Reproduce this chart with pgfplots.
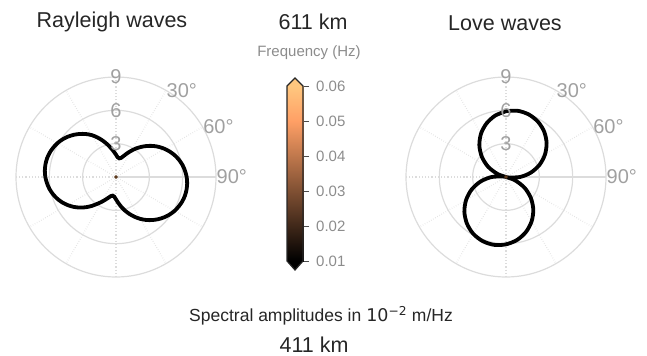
\documentclass[border=0pt]{standalone}
\usepackage{fontspec}
\setmainfont{Liberation Sans}
\newfontfamily\dejavu{DejaVu Sans}
\usepackage{pgfplots}
\usepackage{pgfplotstable}
\pgfplotsset{compat=1.18}
\usepgfplotslibrary{polar}

\definecolor{gridc}{HTML}{DCDCDC}
\definecolor{labc}{HTML}{A0A0A0}
\definecolor{cbl}{HTML}{8C8C8C}
\definecolor{titc}{HTML}{262626}
\definecolor{dotc}{HTML}{5C3A1E}

\pgfplotsset{
  colormap={copper}{rgb(0cm)=(0,0,0) rgb(8cm)=(1,0.625,0.398) rgb(10cm)=(1,0.7812,0.4975)},
  mypolar/.style={
    scale only axis, width=200bp, height=200bp, anchor=center,
    ymin=0, ymax=9, clip=false,
    xtick={30,60,120,150,210,240,300,330},
    extra x ticks={0,90,180,270},
    extra x tick style={major grid style={solid, gridc, line width=1.2bp}, xticklabels={}},
    xticklabels={}, yticklabels={},
    ytick={3,6},
    xmajorgrids, ymajorgrids,
    major x grid style={dotted, gridc, line width=1.3bp},
    major y grid style={solid, gridc, line width=1.2bp},
    axis line style={gridc, line width=1.2bp},
    major tick length=0pt,
  },
}

% azimuth (deg, clockwise from north)  amplitude (1e-2 m/Hz)
\pgfplotstableread{
az r
0 2.01
5 1.78
10 1.70
15 1.78
20 2.01
25 2.34
30 2.72
35 3.13
40 3.54
45 3.95
50 4.35
55 4.72
60 5.06
65 5.37
70 5.65
75 5.89
80 6.09
85 6.24
90 6.36
95 6.43
100 6.45
105 6.43
110 6.36
115 6.24
120 6.09
125 5.89
130 5.65
135 5.37
140 5.06
145 4.72
150 4.35
155 3.95
160 3.54
165 3.13
170 2.72
175 2.34
180 2.01
185 1.78
190 1.70
195 1.78
200 1.98
205 2.25
210 2.58
215 2.95
220 3.40
225 3.85
230 4.28
235 4.68
240 5.04
245 5.37
250 5.65
255 5.89
260 6.09
265 6.24
270 6.36
275 6.43
280 6.45
285 6.43
290 6.36
295 6.24
300 6.09
305 5.89
310 5.65
315 5.37
320 5.06
325 4.72
330 4.35
335 3.92
340 3.48
345 3.05
350 2.65
355 2.30
360 2.01
}\rayleigh

\pgfplotstableread{
az r
0 5.92
10 6.05
20 5.99
30 5.75
40 5.34
50 4.77
60 4.05
70 3.21
80 2.27
90 1.26
100 0.21
102 0
110 0.86
120 1.92
130 2.91
140 3.82
150 4.61
160 5.26
170 5.75
180 6.06
190 6.20
200 6.14
210 5.90
220 5.47
230 4.89
240 4.15
250 3.29
260 2.32
270 1.29
280 0.22
282 0
290 0.84
300 1.87
310 2.84
320 3.73
330 4.50
340 5.13
350 5.61
360 5.92
}\love

\newcommand{\fs}[1]{\fontsize{#1bp}{#1bp}\selectfont}

\begin{document}
\begin{tikzpicture}
\path[use as bounding box] (0,0) rectangle (647bp,-356bp);

% Rayleigh
\begin{polaraxis}[mypolar, at={(116bp,-177bp)}]
\addplot[black, line width=3.8bp, smooth, tension=0.5] table[x expr={90-\thisrow{az}}, y=r] {\rayleigh};
\addplot[only marks, mark=*, mark size=1.6bp, dotc] coordinates {(0,0)};
\node[labc, font=\fs{20}, inner sep=0pt] at (axis cs:90,9) {9};
\node[labc, font=\fs{20}, inner sep=0pt] at (axis cs:90,6) {6};
\node[labc, font=\fs{20}, inner sep=0pt] at (axis cs:90,3) {3};
\node[labc, font=\fs{20}, inner sep=0.5bp, anchor=west] at (axis cs:60,9) {30°};
\node[labc, font=\fs{20}, inner sep=0.5bp, anchor=west] at (axis cs:30,9) {60°};
\node[labc, font=\fs{20}, inner sep=0.5bp, anchor=west] at (axis cs:0,9) {90°};
\end{polaraxis}

% Love
\begin{polaraxis}[mypolar, at={(506bp,-177bp)}]
\addplot[black, line width=3.8bp, smooth, tension=0.5] table[x expr={90-\thisrow{az}}, y=r] {\love};
\addplot[only marks, mark=*, mark size=1.6bp, dotc] coordinates {(0,0)};
\node[labc, font=\fs{20}, inner sep=0pt] at (axis cs:90,9) {9};
\node[labc, font=\fs{20}, inner sep=0pt] at (axis cs:90,6) {6};
\node[labc, font=\fs{20}, inner sep=0pt] at (axis cs:90,3) {3};
\node[labc, font=\fs{20}, inner sep=0.5bp, anchor=west] at (axis cs:60,9) {30°};
\node[labc, font=\fs{20}, inner sep=0.5bp, anchor=west] at (axis cs:30,9) {60°};
\node[labc, font=\fs{20}, inner sep=0.5bp, anchor=west] at (axis cs:0,9) {90°};
\end{polaraxis}

% colorbar
\begin{axis}[at={(287bp,-261bp)}, anchor=south west, scale only axis,
  width=16bp, height=175bp, xmin=0, xmax=1, ymin=0.01, ymax=0.06,
  colormap name=copper, point meta min=0.01, point meta max=0.06,
  axis line style={draw=none}, xtick=\empty,
  ytick={0.01,0.02,0.03,0.04,0.05,0.06}, ytick pos=right, tick align=outside,
  scaled y ticks=false,
  major tick length=6bp, tick style={draw=black!70, line width=0.8bp},
  yticklabel style={cbl, font=\fs{15}, inner xsep=2bp, xshift=5bp},
  /pgf/number format/fixed, /pgf/number format/fixed zerofill,
  /pgf/number format/precision=2, /pgf/number format/assume math mode=true,
  ]
\addplot[surf, shader=interp, mesh/cols=2, point meta=y] coordinates {(0,0.01) (1,0.01) (0,0.06) (1,0.06)};
\end{axis}
\fill[black] (287bp,-261bp) -- (295bp,-270bp) -- (303bp,-261bp) -- cycle;
\fill[color={rgb,1:red,1;green,0.7812;blue,0.4975}] (287bp,-86bp) -- (295bp,-78bp) -- (303bp,-86bp) -- cycle;
\draw[black!85, line width=1.2bp, line join=miter] (287bp,-86bp) -- (295bp,-78bp) -- (303bp,-86bp) -- (303bp,-261bp) -- (295bp,-270bp) -- (287bp,-261bp) -- cycle;

% texts
\node[titc, font=\fs{21.5}] at (112bp,-22bp) {Rayleigh waves};
\node[titc, font=\fs{21.5}] at (313bp,-22bp) {611 km};
\node[titc, font=\fs{21.5}] at (505bp,-23bp) {Love waves};
\node[cbl, font=\fs{15}] at (309bp,-53bp) {Frequency (Hz)};
\node[titc, font=\fs{17.5}] at (321bp,-316bp) {Spectral amplitudes in {\dejavu 10\textsuperscript{−2}} m/Hz};
\node[titc, font=\fs{21.5}] at (314bp,-345bp) {411 km};
\end{tikzpicture}
\end{document}
